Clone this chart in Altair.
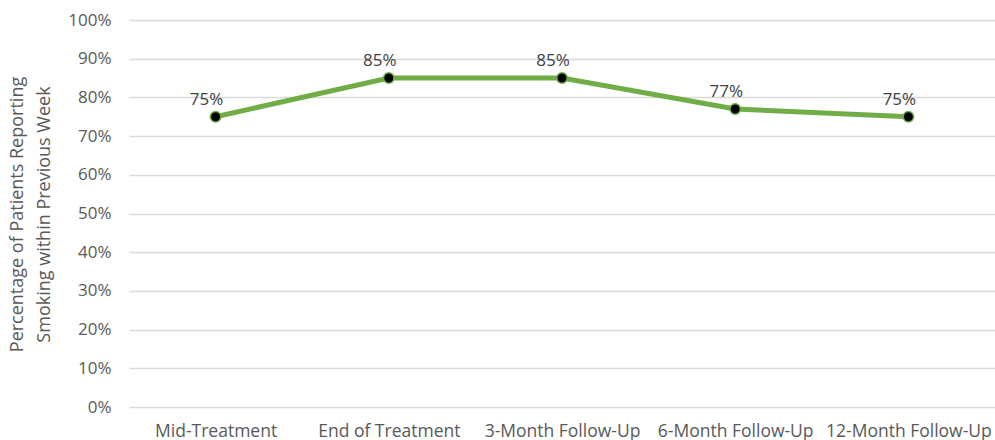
import altair as alt
import pandas as pd

categories = ["Mid-Treatment", "End of Treatment", "3-Month Follow-Up", "6-Month Follow-Up", "12-Month Follow-Up"]
values = [0.75, 0.85, 0.85, 0.77, 0.75]
labels = ["75%", "85%", "85%", "77%", "75%"]

df = pd.DataFrame({"cat": categories, "val": values, "lab": labels})

FONT = "Open Sans"
x = alt.X("cat:N", sort=categories, title=None,
          scale=alt.Scale(paddingInner=0, paddingOuter=0),
          axis=alt.Axis(labelAngle=0, labelFont=FONT, labelFontSize=17.5, labelColor="#595959",
                        ticks=False, domain=False, labelPadding=15, grid=False, labelOverlap=False))
y = alt.Y("val:Q", scale=alt.Scale(domain=[0, 1]),
          title=["Percentage of Patients Reporting", "Smoking within Previous Week"],
          axis=alt.Axis(format=".0%", values=[i / 10 for i in range(11)], labelFont=FONT, labelFontSize=17,
                        labelColor="#595959", ticks=False, domain=False, labelPadding=18,
                        gridColor="#d9d9d9", gridWidth=1.5,
                        titleFont=FONT, titleFontSize=18, titleFontWeight="normal", titleColor="#595959",
                        titleLineHeight=27, titleX=-103, titleY=194, titleAngle=-90, titleAlign="center",
                        titleBaseline="bottom"))

base = alt.Chart(df).encode(x=x, y=y)
line = base.mark_line(color="#70AD47", strokeWidth=5)
pts = base.mark_point(filled=True, fill="black", stroke="#70AD47", strokeWidth=1.5, size=110, opacity=1)
txt = base.mark_text(font=FONT, fontSize=17, color="#404040", dy=-12, dx=-9, baseline="alphabetic").encode(text="lab:N")

chart = (line + pts + txt).properties(
    width=866, height=387,
    autosize=alt.AutoSizeParams(type="none"),
    padding={"left": 129, "top": 20, "right": 0, "bottom": 33},
).configure_view(stroke=None)

chart.save("out.html", embed_options={"renderer": "svg", "actions": False})
